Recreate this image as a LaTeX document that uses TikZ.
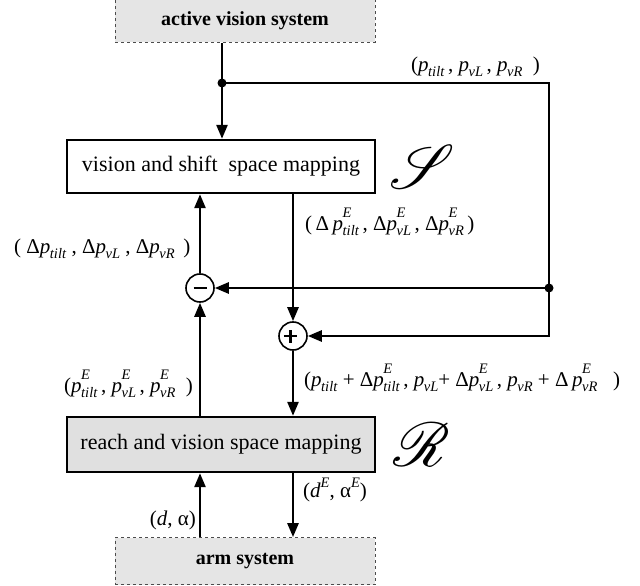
\documentclass[tikz,border=0pt]{standalone}
\usepackage{fontspec}
\setmainfont{Liberation Serif}
\usetikzlibrary{arrows.meta}
\DeclareFontFamily{U}{myrsfs}{\skewchar\font127 }
\DeclareFontShape{U}{myrsfs}{m}{n}{<-> rsfs10}{}
\newcommand\subsz{\fontsize{14.5}{14.5}\selectfont}
\newcommand\pq[2]{\textit{p}\hspace{-0.5pt}\makebox[0pt][l]{\raisebox{1.3ex}{\subsz\textit{#2}}}\raisebox{-0.55ex}{\subsz\textit{#1}}}
\newcommand\scr[1]{{\fontsize{62}{62}\usefont{U}{myrsfs}{m}{n}#1}}
\newcommand\plussign{\makebox[13pt]{\rule[-0.3pt]{2.6pt}{13pt}\hspace{-7.8pt}\rule[5pt]{13pt}{2.6pt}}}
\begin{document}
\begin{tikzpicture}[x=1pt,y=-1pt,
  dashbox/.style={draw=black!70,dashed,line width=0.8pt,fill=black!10,font=\fontsize{20}{24}\selectfont\bfseries,inner sep=0pt},
  blockbox/.style={draw=black,line width=2.4pt,font=\fontsize{22}{26}\selectfont,inner sep=0pt},
  sumnode/.style={circle,draw=black,line width=1.6pt,fill=white,minimum size=28pt,inner sep=0pt},
  lbl/.style={font=\fontsize{21}{24}\selectfont,inner sep=0pt},
  conn/.style={line width=2.6pt},
  arr/.style={line width=2.6pt,-{Triangle[length=14pt,width=11pt]}},
  dot/.style={circle,fill=black,minimum size=9pt,inner sep=0pt}]
\useasboundingbox (0,0) rectangle (640,586);
% boxes
\node[dashbox,minimum width=260pt,minimum height=43pt] (avs) at (245,21) {active vision system};
\node[blockbox,fill=white,minimum width=308pt,minimum height=53pt] (vis) at (221,166.5) {vision and shift\ \ space mapping};
\node[blockbox,fill=black!12,minimum width=308pt,minimum height=55pt] (reach) at (221,444.5) {reach and vision space mapping};
\node[dashbox,minimum width=260pt,minimum height=47pt] (arm) at (245,561) {arm system};
% junctions and corners
\node[dot] (j1) at (222,83) {};
\node[dot] (j2) at (549,288) {};
\coordinate (c1) at (549,83);
\coordinate (c2) at (549,336);
\node[sumnode] (minus) at (200,288) {\rule{13pt}{2.6pt}};
\node[sumnode] (plus) at (293,336) {\plussign};
% connectors
\draw[conn] (avs.south -| j1) -- (j1.center);
\draw[arr] (j1.center) -- (j1 |- vis.north);
\draw[conn] (j1.center) -- (c1) -- (j2.center);
\draw[arr] (j2.center) -- (c2) -- (plus.east);
\draw[arr] (j2.center) -- (minus.east);
\draw[arr] (minus.north) -- (minus |- vis.south);
\draw[arr] (minus |- reach.north) -- (minus.south);
\draw[arr] (plus |- vis.south) -- (plus.north);
\draw[arr] (plus.south) -- (plus |- reach.north);
\draw[arr] (plus |- reach.south) -- (plus |- arm.north);
\draw[arr] (minus |- arm.north) -- (minus |- reach.south);
% labels
\node[lbl,anchor=west] (l1) at (411,67) {(\pq{tilt}{}\,, \pq{vL}{}\,, \pq{vR}{}\ \ )};
\node[lbl,anchor=west] (l2) at (305,222) {(\,Δ\,\pq{tilt}{E}\,, Δ\pq{vL}{E}\,, Δ\pq{vR}{E}\,)};
\node[lbl,anchor=west] (l3) at (14,249) {(\ Δ\pq{tilt}{}\ , Δ\pq{vL}{}\ , Δ\pq{vR}{}\,\ )};
\node[lbl,anchor=west] (l4) at (304,378) {(\pq{tilt}{}\ + Δ\pq{tilt}{E}\,, \pq{vL}{}+ Δ\pq{vL}{E}\,, \pq{vR}{}\ + Δ\,\pq{vR}{E}\ \ \ )};
\node[lbl,anchor=west] (l5) at (64,384) {(\pq{tilt}{E}\,, \pq{vL}{E}\,, \pq{vR}{E}\ \ )};
\node[lbl,anchor=west] (l6) at (303,490) {(\textit{d}\raisebox{1.1ex}{\subsz\textit{E}}, α\raisebox{1.1ex}{\subsz\textit{E}})};
\node[lbl,anchor=east] (l7) at (196,520) {(\textit{d}, α)};
\node (S) at (416,167) {\scr{S}};
\node (R) at (420,445) {\scr{R}};
\end{tikzpicture}
\end{document}
